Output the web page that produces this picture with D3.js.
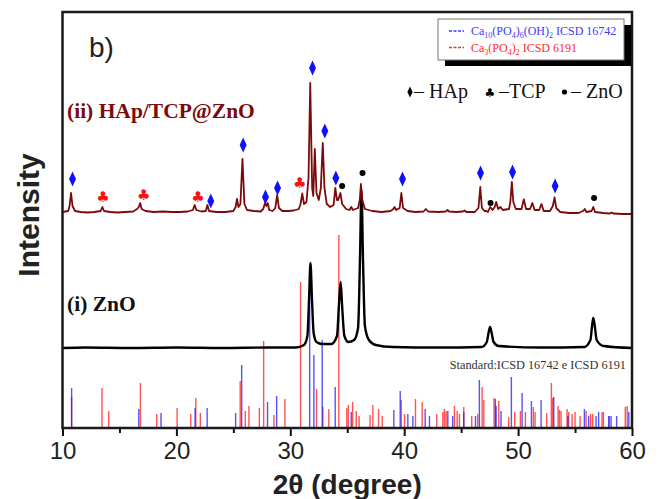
<!DOCTYPE html>
<html><head><meta charset="utf-8">
<script src="https://cdn.jsdelivr.net/npm/d3@7"></script>
<style>
html,body{margin:0;padding:0;background:#fff;}
svg{display:block;}
</style></head>
<body>
<svg id="chart" width="659" height="499"></svg>
<script>
// ---------------- DATA ----------------
const xMajorTicks = [10, 20, 30, 40, 50, 60];
const xMinorTicks = [15, 25, 35, 45, 55];

// ZnO pattern (2theta, intensity a.u.)
const zno = [
  [10.0,80],[12,80.5],[16,80],[20,80.5],[24,80],[28,80.5],[30.5,80.5],[31.2,83],[31.5,92],[31.65,130],[31.77,165],[31.9,130],
  [32.05,95],[32.3,86],[32.8,84],[33.6,84],[34.1,92],[34.28,125],[34.42,146],[34.56,120],
  [34.75,92],[35.1,86],[35.6,88],[35.95,100],[36.12,170],[36.25,238],[36.38,170],[36.55,102],
  [36.9,88],[37.5,83],[39,81],[43,80.5],[46.8,81],[47.25,86],[47.42,96],[47.54,101],[47.66,96],
  [47.85,86],[48.3,82],[52,80.5],[55.8,81],[56.35,88],[56.5,103],[56.6,110],[56.72,103],[56.9,88],
  [57.5,82],[60,80]
];

// HAp/TCP@ZnO pattern (2theta, intensity a.u.)
const hapTcp = [
  [10.0,216],[10.5,217],[10.62,222],[10.75,235],[10.88,222],[11.1,217],[11.6,216],[12.2,215.5],
  [12.8,216],[13.35,217],[13.5,221],[13.65,217],[14.2,216],[14.8,215.5],[15.5,216],[16.2,216.5],
  [16.55,219],[16.7,221],[16.82,225],[16.95,219],[17.3,217],[18.0,216],[18.8,216.5],[19.6,216],
  [20.3,216],[21.0,216.5],[21.45,218],[21.6,223],[21.75,218],[22.2,216.5],[22.58,217],[22.72,223],
  [22.86,217],[23.5,216],[24.3,216],[25.0,217],[25.2,221],[25.32,229],[25.45,221],[25.62,224],
  [25.8,269],[25.97,224],[26.2,218],[26.8,217],[27.4,216.5],[27.62,219],[27.78,225],[27.9,222],
  [28.02,225],[28.15,218],[28.45,217],[28.68,220],[28.85,233],[29.0,220],[29.3,217],[29.8,217],
  [30.3,217.5],[30.75,219],[30.9,224],[31.05,234.7],[31.2,224],[31.42,226],[31.6,250],[31.75,345],
  [31.92,240],[32.02,232],[32.15,279],[32.3,235],[32.5,228],[32.68,240],[32.85,285],[33.0,240],
  [33.2,224],[33.5,221],[33.8,223],[33.95,240],[34.1,228],[34.2,228],[34.4,235],[34.55,224],
  [34.9,219],[35.2,218],[35.35,221],[35.5,218],[35.95,220],[36.1,228],[36.2,244],[36.32,228],
  [36.55,219],[37.2,217],[38.0,216],[38.8,217],[39.05,219],[39.15,221],[39.3,218],[39.6,220],
  [39.75,235],[39.9,220],[40.3,217],[41.0,216],[41.7,216.5],[41.9,219],[42.1,216.5],[43.0,216],
  [43.65,216.5],[43.8,218],[43.95,216.5],[44.6,216],[45.15,216.5],[45.3,217.5],[45.45,216],[46.2,216],
  [46.52,220],[46.68,241],[46.82,220],[47.05,217],[47.2,217],[47.35,216],[47.55,221],[47.75,218],
  [47.95,221],[48.08,226],[48.25,219],[48.45,221],[48.65,218],[49.2,219],[49.32,226],[49.45,246],
  [49.58,226],[49.8,219],[50.3,219],[50.5,228.7],[50.7,219],[51.05,219],[51.25,225],[51.45,218],
  [51.85,218],[52.05,224],[52.25,217],[52.8,217],[53.05,222],[53.2,230.7],[53.35,220],[53.7,216],
  [54.5,215],[55.3,215],[55.7,217],[55.85,219],[56.0,216],[56.45,217],[56.6,221],[56.75,216],
  [57.5,215],[58.05,214.5],[58.2,215.5],[58.35,214.5],[59.2,214],[60,214]
];

// Standard reference sticks: ICSD 16742 (HAp, blue) and ICSD 6191 (TCP, red)
const hapSticks = [
  [10.8,40],[16.7,19],[18.65,15],[21.64,20],[22.7,20],[25.2,15],[25.73,63],[28.0,26],[28.8,32],
  [31.7,146],[32.07,73],[32.8,88],[33.94,41],[35.35,16],[39.09,18],[39.65,37],[40.32,14],[40.76,12],
  [41.84,19],[42.22,12],[43.83,17],[44.26,12],[45.23,16],[46.26,12],[46.6,48],[48.0,29],[48.07,22],
  [48.5,17],[49.41,51],[50.35,35],[51.17,27],[52.02,28],[53.13,31],[54.37,12],[55.82,19],[56.2,12],
  [56.84,12],[57.07,16],[57.96,12],[58.16,12],[58.65,12],[59.72,16]
];
const tcpSticks = [
  [10.8,31],[13.47,40],[14.06,17],[16.84,45],[18.27,14],[20.06,20],[21.26,14],[21.7,30],[22.1,15],
  [25.6,47],[26.05,17],[26.37,22],[27.28,20],[27.66,87],[28.56,13],[29.53,29],[30.9,146],[32.3,39],
  [32.86,21],[33.38,19],[34.26,193],[34.96,20],[35.09,23],[35.47,26],[35.79,17],[36.04,12],[37.0,13],
  [37.25,23],[37.75,19],[38.07,12],[39.74,28],[40.03,14],[40.99,29],[41.58,26],[42.86,14],[43.39,16],
  [43.53,19],[43.68,17],[44.41,22],[44.65,17],[44.85,14],[45.23,21],[45.93,12],[46.46,14],[46.84,41],
  [46.99,28],[47.89,30],[48.3,27],[49.17,11],[49.7,16],[50.2,17],[50.64,16],[51.34,21],[51.49,16],
  [52.51,15],[52.92,45],[53.04,30],[53.51,22],[53.63,18],[53.77,17],[54.3,19],[54.44,16],[54.74,14],
  [55.0,16],[55.44,12],[55.97,17],[56.37,14],[56.55,14],[57.37,16],[57.49,16],[58.0,12],[59.41,21],[59.58,22]
];

// Phase markers (2theta, intensity position)
const hapMarks = [[10.88,249],[23.02,227],[25.86,283],[27.82,231],[28.88,240],[31.95,360],[33.03,297],
  [34.0,250],[39.85,249],[46.7,255],[49.51,256],[53.25,242]];
const tcpMarks = [[13.56,231],[17.14,233],[21.9,231],[30.83,245]];
const znoMarks = [[34.55,242],[36.34,255],[47.58,225],[56.67,230]];

const legendSeries = [
  {label: ["Ca", "10", "(PO", "4", ")", "6", "(OH)", "2", " ICSD 16742"], color: "#3a3aff"},
  {label: ["Ca", "3", "(PO", "4", ")", "2", " ICSD 6191"], color: "#ff2a2a"}
];
const phaseKey = [
  {sym: "diamond", text: "– HAp"},
  {sym: "club", text: "–TCP"},
  {sym: "dot", text: "– ZnO"}
];

// ---------------- CHART ----------------
const svg = d3.select("#chart");
const L = 62.5, R = 632, T = 12, B = 428;
const x = d3.scaleLinear().domain([10, 60]).range([L, R]);
const y = d3.scaleLinear().domain([0, 416]).range([B, T]);

// sticks
const g = svg.append("g");
g.selectAll(".tcp").data(tcpSticks).join("line")
  .attr("x1", d => x(d[0])).attr("x2", d => x(d[0]))
  .attr("y1", y(0)).attr("y2", d => y(d[1]))
  .attr("stroke", "#ff1a1a").attr("stroke-opacity", 0.75).attr("stroke-width", 1.4);
g.selectAll(".hap").data(hapSticks).join("line")
  .attr("x1", d => x(d[0])).attr("x2", d => x(d[0]))
  .attr("y1", y(0)).attr("y2", d => y(d[1]))
  .attr("stroke", "#1a1aff").attr("stroke-opacity", 0.75).attr("stroke-width", 1.4);

const line = d3.line().x(d => x(d[0])).y(d => y(d[1])).curve(d3.curveMonotoneX);
svg.append("path").datum(zno).attr("d", line)
  .attr("fill", "none").attr("stroke", "#000").attr("stroke-width", 2.4).attr("stroke-linejoin", "round");
svg.append("path").datum(hapTcp).attr("d", d3.line().x(d => x(d[0])).y(d => y(d[1])))
  .attr("fill", "none").attr("stroke", "#7d0a0a").attr("stroke-width", 1.8).attr("stroke-linejoin", "round");

// markers
svg.selectAll(".dm").data(hapMarks).join("path")
  .attr("transform", d => `translate(${x(d[0])},${y(d[1])}) scale(1,1.25)`)
  .attr("d", d3.symbol(d3.symbolDiamond, 42)).attr("fill", "#1010ff");
svg.selectAll(".cl").data(tcpMarks).join("text")
  .attr("x", d => x(d[0])).attr("y", d => y(d[1]) + 5)
  .attr("text-anchor", "middle").attr("font-family", "DejaVu Sans").attr("font-size", 15)
  .attr("fill", "#ff1010").text("♣");
svg.selectAll(".dt").data(znoMarks).join("circle")
  .attr("cx", d => x(d[0])).attr("cy", d => y(d[1])).attr("r", 3).attr("fill", "#000");

// axes
const axMajor = d3.axisBottom(x).tickValues(xMajorTicks).tickSize(8).tickPadding(6).tickFormat(d3.format("d"));
const axMinor = d3.axisBottom(x).tickValues(xMinorTicks).tickSize(5).tickFormat("");
const gx = svg.append("g").attr("transform", `translate(0,${B})`).call(axMajor);
gx.select(".domain").remove();
gx.selectAll("line").attr("stroke", "#111").attr("stroke-width", 2);
gx.selectAll("text").attr("font-family", "Liberation Sans, Arial, sans-serif").attr("font-size", 24).attr("fill", "#222");
const gm = svg.append("g").attr("transform", `translate(0,${B})`).call(axMinor);
gm.select(".domain").remove();
gm.selectAll("line").attr("stroke", "#111").attr("stroke-width", 2);

// frame
svg.append("rect").attr("x", L).attr("y", T).attr("width", R - L).attr("height", B - T)
  .attr("fill", "none").attr("stroke", "#1a1a1a").attr("stroke-width", 2.5);

// axis titles
svg.append("text").attr("x", (L + R) / 2).attr("y", 494).attr("text-anchor", "middle")
  .attr("font-family", "Liberation Sans, Arial, sans-serif").attr("font-weight", "bold").attr("font-size", 28)
  .attr("fill", "#222").text("2θ (degree)");
svg.append("text").attr("transform", "translate(39,215) rotate(-90)").attr("text-anchor", "middle")
  .attr("font-family", "Liberation Sans, Arial, sans-serif").attr("font-weight", "bold").attr("font-size", 30)
  .attr("fill", "#222").text("Intensity");

// panel label and sample labels
svg.append("text").attr("x", 89).attr("y", 57).attr("font-family", "Liberation Sans, Arial, sans-serif")
  .attr("font-size", 28).attr("fill", "#222").text("b)");
svg.append("text").attr("x", 67).attr("y", 118).attr("font-family", "Liberation Serif, Times New Roman, serif")
  .attr("font-weight", "bold").attr("font-size", 21.5).attr("fill", "#7d0a0a").text("(ii) HAp/TCP@ZnO");
svg.append("text").attr("x", 67).attr("y", 311).attr("font-family", "Liberation Serif, Times New Roman, serif")
  .attr("font-weight", "bold").attr("font-size", 21.5).attr("fill", "#111").text("(i) ZnO");
svg.append("text").attr("x", 626).attr("y", 369).attr("text-anchor", "end")
  .attr("font-family", "Liberation Serif, Times New Roman, serif").attr("font-size", 12.3).attr("fill", "#333")
  .text("Standard:ICSD 16742 e ICSD 6191");

// phase key
const keyX = [410, 490, 564.5], keyTX = [414, 499, 571];
phaseKey.forEach((k, i) => {
  const cy = 92;
  if (k.sym === "diamond") svg.append("path").attr("transform", `translate(${keyX[i]},${cy}) scale(1,1.2)`)
    .attr("d", d3.symbol(d3.symbolDiamond, 24)).attr("fill", "#000");
  if (k.sym === "club") svg.append("text").attr("x", keyX[i]).attr("y", cy + 5).attr("text-anchor", "middle")
    .attr("font-family", "DejaVu Sans").attr("font-size", 12).attr("fill", "#000").text("♣");
  if (k.sym === "dot") svg.append("circle").attr("cx", keyX[i]).attr("cy", cy).attr("r", 2.6).attr("fill", "#000");
  svg.append("text").attr("x", keyTX[i]).attr("y", cy + 6).attr("font-family", "Liberation Serif, Times New Roman, serif")
    .attr("font-size", 20).attr("fill", "#111").text(k.text);
});

// legend box with shadow
svg.append("rect").attr("x", 445).attr("y", 25).attr("width", 186).attr("height", 41).attr("fill", "#000");
svg.append("rect").attr("x", 438).attr("y", 19).attr("width", 186).attr("height", 41)
  .attr("fill", "#fff").attr("stroke", "#777").attr("stroke-width", 1);
legendSeries.forEach((s, i) => {
  const cy = 31 + i * 16.5;
  svg.append("line").attr("x1", 449).attr("x2", 464).attr("y1", cy).attr("y2", cy)
    .attr("stroke", s.color).attr("stroke-width", 1.6).attr("stroke-dasharray", "3,1.5");
  const t = svg.append("text").attr("x", 471).attr("y", cy + 4)
    .attr("font-family", "Liberation Serif, Times New Roman, serif").attr("font-size", 12).attr("fill", s.color);
  s.label.forEach((part, j) => {
    const sub = j % 2 === 1 && j < s.label.length - 1;
    t.append("tspan").attr("font-size", sub ? 8 : 12).attr("dy", sub ? 3 : (j > 0 ? -3 : 0)).text(part);
  });
});
</script>
</body></html>
